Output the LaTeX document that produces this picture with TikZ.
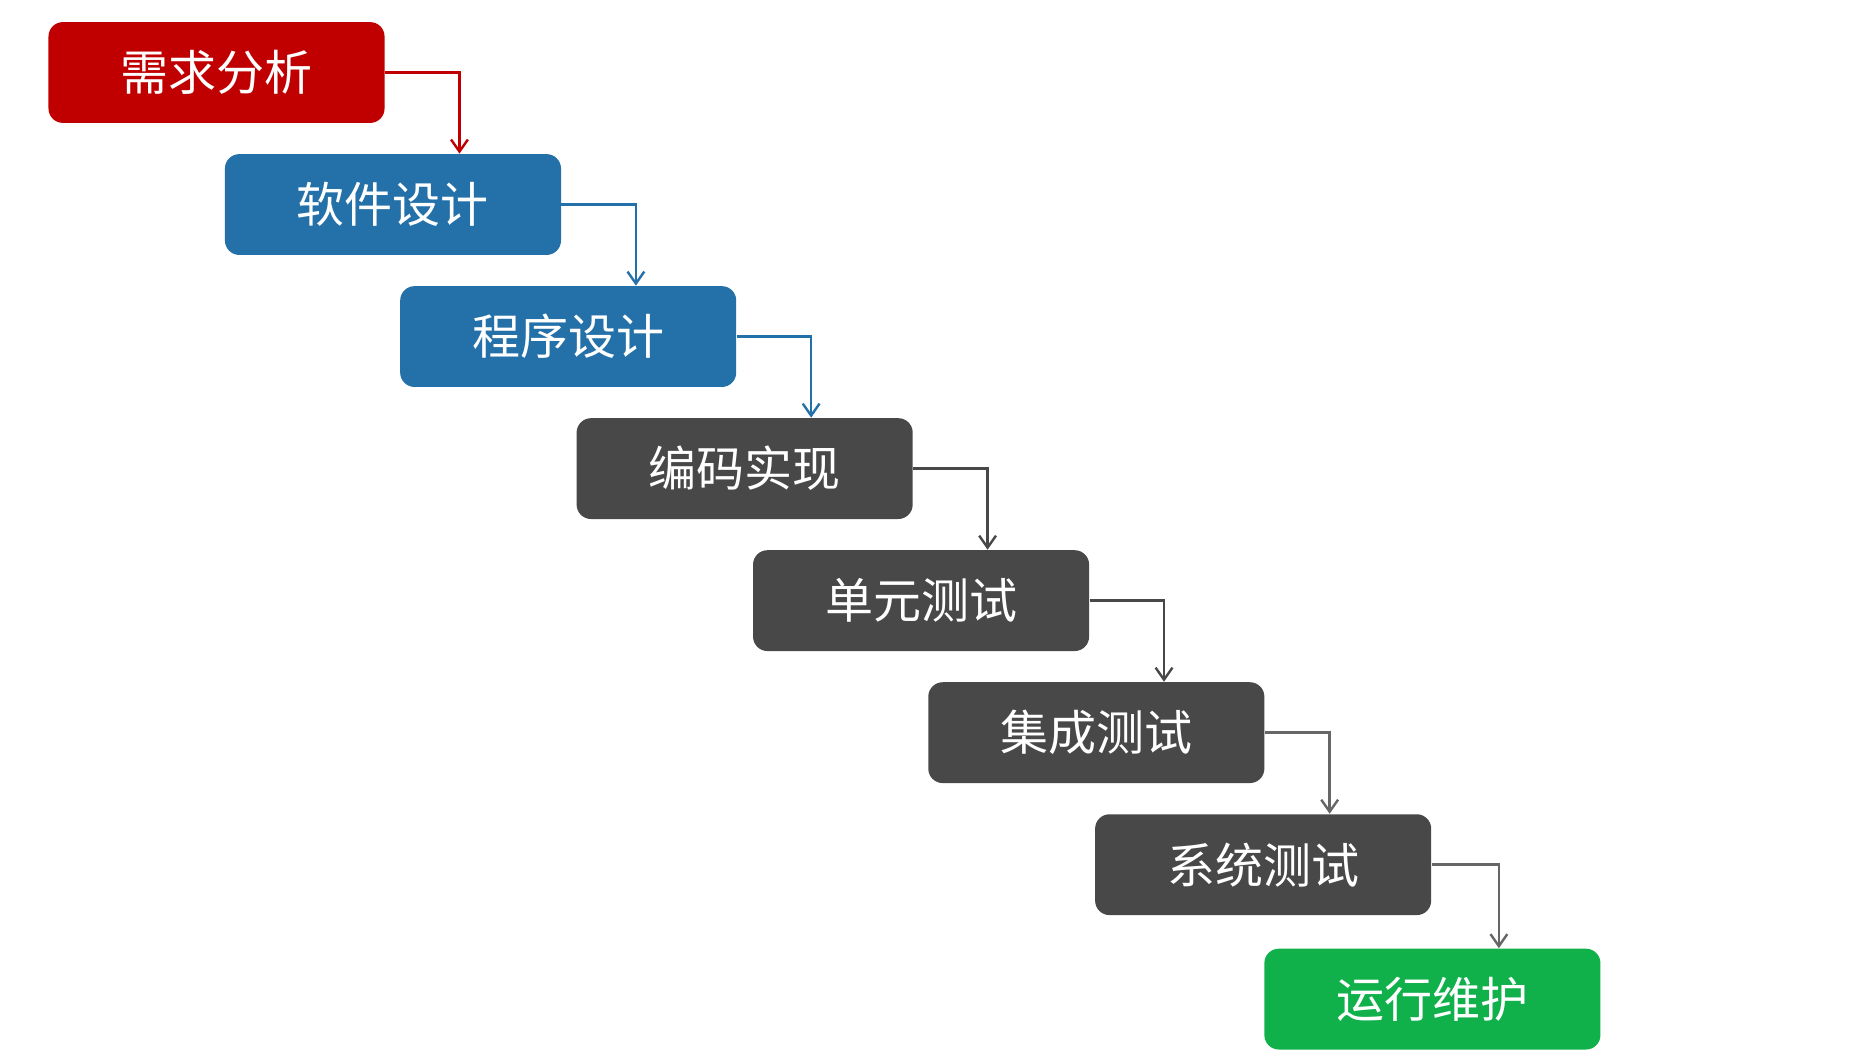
\documentclass[tikz,border=0pt]{standalone}
\usepackage{fontspec}
\setmainfont{Noto Sans CJK SC}
\usetikzlibrary{arrows.meta}
\definecolor{cred}{HTML}{C00000}
\definecolor{cblue}{HTML}{2470A8}
\definecolor{cgray}{HTML}{484848}
\definecolor{cgreen}{HTML}{10B14B}
\begin{document}
\begin{tikzpicture}[x=0.5pt,y=-0.5pt,
  stage/.style={rounded corners=6pt,minimum width=140pt,minimum height=42pt,inner sep=0pt,text=white,font=\fontsize{20pt}{22pt}\selectfont,anchor=north west},
  flow/.style={-{Straight Barb[length=5pt,width=7pt]},line width=1pt}]
\useasboundingbox (0,0) rectangle (1563,885);
\node[stage,fill=cred]   (a) at (40,18)  {需求分析};
\node[stage,fill=cblue]  (b) at (187,128) {软件设计};
\node[stage,fill=cblue]  (c) at (333,238) {程序设计};
\node[stage,fill=cgray]  (d) at (480,348) {编码实现};
\node[stage,fill=cgray]  (e) at (627,458) {单元测试};
\node[stage,fill=cgray]  (f) at (773,568) {集成测试};
\node[stage,fill=cgray]  (g) at (912,678) {系统测试};
\node[stage,fill=cgreen] (h) at (1053,790) {运行维护};
\draw[flow,cred]  (a.east) -| ([xshift=62*0.5pt]a.east |- b.north);
\draw[flow,cblue] (b.east) -| ([xshift=62*0.5pt]b.east |- c.north);
\draw[flow,cblue] (c.east) -| ([xshift=62*0.5pt]c.east |- d.north);
\draw[flow,cgray] (d.east) -| ([xshift=62*0.5pt]d.east |- e.north);
\draw[flow,cgray] (e.east) -| ([xshift=62*0.5pt]e.east |- f.north);
\draw[flow,gray!80!black] (f.east) -| ([xshift=54*0.5pt]f.east |- g.north);
\draw[flow,gray!80!black] (g.east) -| ([xshift=56*0.5pt]g.east |- h.north);
\end{tikzpicture}
\end{document}
